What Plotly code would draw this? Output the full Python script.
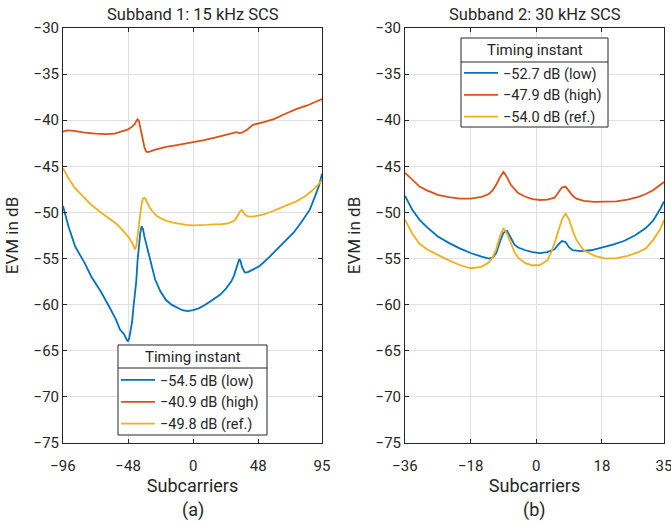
import plotly.graph_objects as go

# ---------------- data ----------------
# Subband 1 (15 kHz SCS)
s1_low_x = [-96, -92, -87, -80, -75, -68, -62, -57, -54, -51, -49, -48, -47, -45, -44, -42, -41, -40, -39, -38, -37, -36, -34, -31, -28, -24, -20, -16, -12, -8, -4, 0, 4, 8, 12, 16, 20, 24, 28, 30, 32, 33, 34, 35, 36, 38, 40, 44, 49, 55, 62, 68, 74, 80, 86, 90, 93, 95]
s1_low_y = [-49.3, -51.5, -53.7, -55.5, -57.0, -58.6, -60.2, -61.6, -62.7, -63.2, -63.8, -64.0, -63.5, -61.8, -60.2, -57.5, -55.2, -53.5, -52.2, -51.5, -51.8, -52.6, -53.7, -55.6, -57.3, -58.6, -59.5, -60.0, -60.3, -60.6, -60.7, -60.6, -60.4, -60.1, -59.7, -59.3, -58.9, -58.3, -57.5, -56.9, -56.0, -55.4, -55.05, -55.3, -55.9, -56.5, -56.5, -56.2, -55.8, -55.0, -54.0, -53.1, -52.2, -51.0, -49.7, -48.2, -47.0, -45.8]

s1_high_x = [-96, -93, -88, -80, -72, -64, -58, -52, -48, -45, -43, -42, -41, -40, -39, -38, -37, -36, -35, -34, -32, -28, -20, -12, -4, 0, 8, 16, 24, 30, 32, 34, 36, 40, 44, 52, 60, 68, 76, 84, 90, 95]
s1_high_y = [-41.25, -41.1, -41.15, -41.35, -41.45, -41.5, -41.45, -41.2, -41.0, -40.7, -40.4, -40.1, -39.9, -40.1, -40.7, -41.4, -42.2, -42.9, -43.3, -43.45, -43.4, -43.2, -42.9, -42.7, -42.5, -42.4, -42.15, -41.9, -41.6, -41.35, -41.3, -41.4, -41.35, -41.0, -40.5, -40.2, -39.85, -39.3, -38.8, -38.4, -38.0, -37.7]

s1_ref_x = [-96, -92, -87, -80, -75, -68, -62, -56, -51, -47, -44, -43, -42, -41, -40, -39, -38, -37, -36, -35, -34, -32, -30, -27, -23, -19, -15, -10, -5, 0, 5, 10, 15, 20, 25, 29, 31, 33, 34, 35, 36, 37, 38, 40, 42, 46, 52, 58, 64, 70, 76, 82, 88, 92, 95]
s1_ref_y = [-45.2, -46.3, -47.4, -48.5, -49.2, -50.0, -50.6, -51.3, -52.1, -52.8, -53.6, -54.0, -53.7, -52.5, -51.2, -49.9, -49.0, -48.5, -48.4, -48.6, -48.9, -49.5, -49.9, -50.35, -50.7, -50.95, -51.1, -51.25, -51.35, -51.4, -51.4, -51.35, -51.3, -51.3, -51.2, -51.0, -50.8, -50.3, -50.0, -49.8, -49.75, -49.95, -50.2, -50.4, -50.45, -50.4, -50.2, -49.9, -49.55, -49.2, -48.8, -48.3, -47.6, -47.0, -46.5]

# Subband 2 (30 kHz SCS)
s2_low_x = [-36, -34, -32, -30, -27, -24, -21, -18, -15, -13, -12, -11, -10, -9, -8, -7, -6, -5, -3, -1, 1, 3, 5, 6, 7, 8, 9, 10, 12, 15, 18, 21, 24, 27, 30, 32, 34, 35]
s2_low_y = [-48.2, -49.7, -50.8, -51.6, -52.6, -53.3, -53.9, -54.4, -54.8, -55.0, -54.9, -54.4, -53.2, -52.2, -52.0, -52.8, -53.5, -53.8, -54.1, -54.3, -54.4, -54.3, -54.0, -53.5, -53.1, -53.2, -53.8, -54.1, -54.2, -54.1, -53.8, -53.5, -53.1, -52.5, -51.7, -50.9, -49.6, -48.8]

s2_high_x = [-36, -34, -32, -30, -27, -24, -21, -18, -15, -13, -12, -11, -10, -9, -8, -7, -6, -5, -3, -1, 1, 3, 5, 6, 7, 8, 9, 10, 11, 13, 16, 19, 22, 25, 28, 30, 32, 34, 35]
s2_high_y = [-45.7, -46.5, -47.2, -47.6, -48.1, -48.35, -48.5, -48.5, -48.3, -48.0, -47.6, -47.0, -46.2, -45.6, -46.2, -47.0, -47.5, -47.9, -48.3, -48.55, -48.65, -48.6, -48.4, -47.9, -47.3, -47.2, -47.7, -48.2, -48.5, -48.75, -48.85, -48.85, -48.8, -48.6, -48.3, -48.0, -47.6, -47.0, -46.7]

s2_ref_x = [-36, -34, -32, -30, -27, -24, -21, -18, -15, -13, -12, -11, -10, -9, -8, -7, -6, -5, -3, -1, 1, 3, 4, 5, 6, 7, 8, 9, 10, 11, 13, 16, 19, 22, 25, 28, 30, 32, 34, 35]
s2_ref_y = [-50.8, -52.3, -53.4, -54.0, -54.6, -55.2, -55.7, -56.05, -55.9, -55.4, -54.9, -54.0, -52.6, -51.7, -52.3, -53.4, -54.3, -54.9, -55.5, -55.75, -55.7, -55.2, -54.4, -53.3, -52.0, -50.8, -50.1, -50.8, -52.0, -53.0, -54.1, -54.7, -55.0, -54.95, -54.7, -54.3, -53.9, -53.0, -51.8, -50.8]

s1_names = ["\u221254.5 dB (low)", "\u221240.9 dB (high)", "\u221249.8 dB (ref.)"]
s2_names = ["\u221252.7 dB (low)", "\u221247.9 dB (high)", "\u221254.0 dB (ref.)"]
legend_title = "Timing instant"
panel_titles = ["Subband 1: 15 kHz SCS", "Subband 2: 30 kHz SCS"]
panel_tags = ["(a)", "(b)"]

s1_ticks = [-96, -48, 0, 48, 95]
s2_ticks = [-36, -18, 0, 18, 35]
y_ticks = [-30, -35, -40, -45, -50, -55, -60, -65, -70, -75]

colors = ["#0072BD", "#D95319", "#EDB120"]


def lab(v):
    return ("\u2212" + str(abs(v))) if v < 0 else str(v)


FONT = "Roboto"
TXT = "#262626"
W, H = 671, 523


def px(v):
    return v / W


def py(v):
    return 1 - v / H


fig = go.Figure()
for xs, ys, nm, c in zip([s1_low_x, s1_high_x, s1_ref_x], [s1_low_y, s1_high_y, s1_ref_y], s1_names, colors):
    fig.add_trace(go.Scatter(x=xs, y=ys, name=nm, mode="lines", line=dict(color=c, width=1.8),
                             xaxis="x", yaxis="y", legend="legend"))
for xs, ys, nm, c in zip([s2_low_x, s2_high_x, s2_ref_x], [s2_low_y, s2_high_y, s2_ref_y], s2_names, colors):
    fig.add_trace(go.Scatter(x=xs, y=ys, name=nm, mode="lines", line=dict(color=c, width=1.8),
                             xaxis="x2", yaxis="y2", legend="legend2"))

ydom = [py(443), py(28)]
axis_common = dict(showgrid=True, gridcolor="#e0e0e0", gridwidth=1, zeroline=False,
                   showline=True, linecolor=TXT, linewidth=1, mirror="ticks",
                   ticks="inside", ticklen=4, tickcolor=TXT, automargin=False,
                   ticklabeloverflow="allow",
                   tickfont=dict(family=FONT, size=15, color=TXT))
xtitle = dict(text="Subcarriers", font=dict(family=FONT, size=18, color=TXT), standoff=4)
ytitle = dict(text="EVM in dB", font=dict(family=FONT, size=17, color=TXT), standoff=10)

leg_common = dict(xanchor="left", yanchor="top", bgcolor="rgba(0,0,0,0)", borderwidth=0,
                  font=dict(family=FONT, size=14.5, color=TXT), tracegroupgap=0, itemwidth=34)

fig.update_layout(
    width=W, height=H, margin=dict(l=0, r=0, t=0, b=0, autoexpand=False),
    paper_bgcolor="white", plot_bgcolor="white",
    font=dict(family=FONT, color=TXT),
    showlegend=True,
    xaxis=dict(axis_common, domain=[px(63), px(322)], range=[-96, 95],
               tickvals=s1_ticks, ticktext=[lab(v) for v in s1_ticks],
               ticklabelstandoff=9, title=xtitle, anchor="y"),
    yaxis=dict(axis_common, domain=ydom, range=[-75, -30],
               tickvals=y_ticks, ticktext=[lab(v) for v in y_ticks],
               title=ytitle, anchor="x"),
    xaxis2=dict(axis_common, domain=[px(405), px(664)], range=[-36, 35],
                tickvals=s2_ticks, ticktext=[lab(v) for v in s2_ticks],
                ticklabelstandoff=9, title=xtitle, anchor="y2"),
    yaxis2=dict(axis_common, domain=ydom, range=[-75, -30],
                tickvals=y_ticks, ticktext=[lab(v) for v in y_ticks],
                title=ytitle, anchor="x2"),
    legend=dict(leg_common, x=px(116), y=py(364)),
    legend2=dict(leg_common, x=px(459), y=py(57)),
)

# legend boxes (drawn as shapes so the header separator can be shown)
boxes = [(118, 267, 345, 435, 368), (461, 608, 38, 127, 62)]
for (x0, x1, y0, y1, ys) in boxes:
    fig.add_shape(type="rect", xref="paper", yref="paper", x0=px(x0), x1=px(x1), y0=py(y1), y1=py(y0),
                  line=dict(color=TXT, width=1), fillcolor="white", layer="above")
    fig.add_shape(type="line", xref="paper", yref="paper", x0=px(x0), x1=px(x1), y0=py(ys), y1=py(ys),
                  line=dict(color=TXT, width=1), layer="above")
    fig.add_annotation(text=legend_title, x=px((x0 + x1) / 2), y=py((y0 + ys) / 2), xref="paper", yref="paper",
                       showarrow=False, font=dict(family=FONT, size=15, color=TXT),
                       xanchor="center", yanchor="middle")

centers = [(63 + 322) / 2, (405 + 664) / 2]
for cx, t, tag in zip(centers, panel_titles, panel_tags):
    fig.add_annotation(text=t, x=px(cx), y=py(15), xref="paper", yref="paper", showarrow=False,
                       font=dict(family=FONT, size=16.5, color=TXT), xanchor="center", yanchor="middle")
    fig.add_annotation(text=tag, x=px(cx), y=py(510), xref="paper", yref="paper", showarrow=False,
                       font=dict(family=FONT, size=18, color=TXT), xanchor="center", yanchor="middle")

fig.write_html("out.html")
